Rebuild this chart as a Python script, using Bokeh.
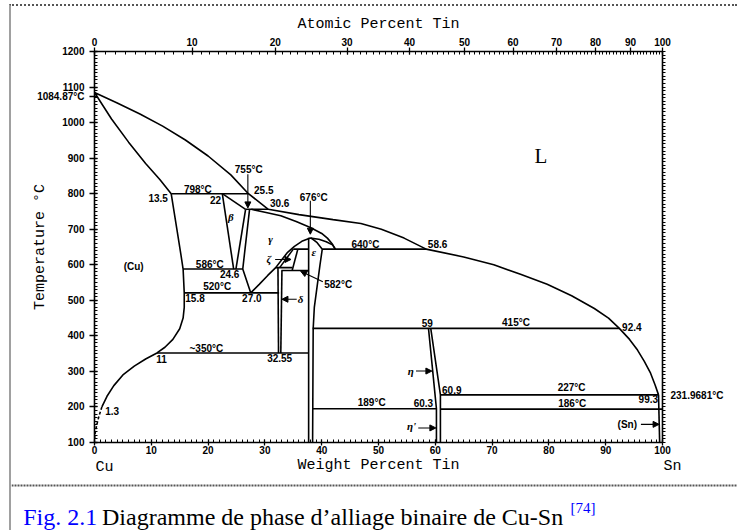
from bokeh.plotting import figure
from bokeh.layouts import column
from bokeh.models import (Range1d, LinearAxis, FixedTicker, CustomJSTickFormatter, Arrow, NormalHead)
from bokeh.core.properties import value
from bokeh.embed import file_html
from bokeh.resources import INLINE

# ---------------- data (weight % Sn, temperature degC) ----------------
liquidus_wt = [0, 4, 8, 12, 16, 20, 24, 27.1, 30.6, 36, 42, 46.9, 50.5, 54.5, 58.4,
               65, 70.3, 75, 79.7, 84, 88, 90.5, 92.4, 94.2, 95.6, 96.8, 97.9, 98.7, 99.3]
liquidus_T = [1084.87, 1055, 1024, 990, 951, 906, 853, 800, 756, 741, 727, 716, 700, 675, 644,
              622, 600, 573, 545, 513, 477, 450, 421, 390, 360, 328, 295, 262, 234]

solidus_cu_wt = [0, 3, 6, 9, 11.5, 13.5]
solidus_cu_T = [1084.87, 1010, 945, 885, 840, 800]

solvus_cu_wt = [13.5, 14.5, 15.2, 15.6, 15.8, 15.8, 15.6, 15.0, 13.8, 12.4, 11, 9, 7, 5, 3.4, 2.2, 1.3]
solvus_cu_T = [800, 700, 630, 588, 521, 480, 450, 420, 390, 368, 352, 335, 315, 290, 260, 230, 200]

solvus_dash_wt = [1.3, 0.8, 0.4, 0.1, 0]
solvus_dash_T = [200, 175, 150, 125, 108]

# horizontal invariant lines: temperature, left wt, right wt
iso_T = [800, 756, 588, 521, 352, 644, 644, 592, 584, 421, 234, 195, 194]
iso_left = [13.5, 26.6, 15.6, 15.8, 11.0, 35.0, 40.1, 31.9, 32.9, 38.4, 60.9, 38.4, 60.9]
iso_right = [27.1, 30.6, 26.1, 32.5, 37.7, 37.7, 58.4, 34.8, 37.7, 92.4, 99.3, 60.2, 100]

beta_left_wt, beta_left_T = [22.5, 24.5], [800, 588]
beta_top_wt, beta_top_T = [22.5, 26.6], [800, 756]
beta_right_wt, beta_right_T = [26.6, 24.9], [756, 588]
gamma_left_wt, gamma_left_T = [27.3, 26.1, 27.5], [756, 588, 521]
gamma_right_wt = [27.5, 29, 30.5, 31.9, 33, 34, 35.2, 36.5, 38, 39.5, 40.8, 41.9, 42.4]
gamma_right_T = [521, 545, 570, 592, 615, 635, 652, 666, 675, 672, 665, 656, 644]
gamma_sol_wt = [27.6, 30, 32.8, 35.5, 38, 40, 41, 41.8, 42.4]
gamma_sol_T = [756, 748, 738, 722, 705, 688, 675, 660, 644]
eps_left_wt, eps_left_T = [37.7, 37.7], [676, 100]
eps_right_wt = [38.1, 39.2, 40.1, 39.7, 39.2, 38.7, 38.5, 38.4]
eps_right_T = [676, 662, 644, 600, 540, 480, 420, 100]
zeta_left_wt, zeta_left_T = [35.0, 32.6], [644, 592]
zeta_right_wt, zeta_right_T = [35.8, 34.8], [644, 584]
delta_left_wt, delta_left_T = [32.3, 32.4], [592, 352]
delta_right_wt, delta_right_T = [33.0, 32.8], [584, 352]
eta_left_wt, eta_left_T = [58.8, 60.2, 60.2], [421, 195, 100]
eta_right_wt, eta_right_T = [59.2, 60.9, 60.9], [421, 234, 100]
sn_wt, sn_T = [99.3, 99.5], [234, 100]

# arrows: x0, y0, x1, y1
arr_x0 = [27.0, 38.0, 31.8, 40.2, 35.6, 56.6, 57.0, 96.2]
arr_y0 = [855, 780, 615, 552, 503, 301, 141, 151]
arr_x1 = [27.0, 38.0, 34.6, 36.3, 33.0, 59.4, 60.1, 99.4]
arr_y1 = [760, 686, 615, 582, 503, 301, 141, 151]

# numeric / temperature annotations
ann_text = ["755°C", "25.5", "798°C", "13.5", "22", "30.6", "676°C", "586°C", "24.6", "520°C",
            "15.8", "27.0", "~350°C", "11", "32.55", "1.3", "(Cu)", "640°C", "58.6", "582°C",
            "59", "415°C", "92.4", "60.9", "227°C", "99.3", "189°C", "60.3", "186°C", "(Sn)"]
ann_x = [27.15, 29.8, 18.2, 11.2, 21.3, 32.6, 38.6, 20.3, 23.8, 21.6,
         17.7, 27.7, 19.7, 11.8, 32.6, 3.1, 6.9, 47.7, 60.4, 42.9,
         58.6, 74.2, 94.6, 62.9, 84.0, 97.5, 48.8, 57.9, 84.1, 93.8]
ann_y = [869, 811, 813, 789, 783, 773, 789, 602, 574, 538,
         506, 506, 365, 334, 337, 189, 594, 658, 658, 545,
         437, 439, 425, 248, 254, 222, 212, 210, 210, 151]

phase_text = ["β", "γ", "ζ", "δ", "ε", "η", "η'"]
phase_x = [24.0, 31.0, 30.7, 36.3, 38.6, 55.7, 55.8]
phase_y = [733, 672, 616, 504, 637, 301, 146]

temp_ticks = [100, 200, 300, 400, 500, 600, 700, 800, 900, 1000, 1100, 1200]
cu_melting_label_pos = 1073          # label sits just under the 1100 label, as in the source
sn_melting = 231.9681
wt_ticks = [0, 10, 20, 30, 40, 50, 60, 70, 80, 90, 100]
atomic_ticks = [0, 10, 20, 30, 40, 50, 60, 70, 80, 90, 100]
M_SN, M_CU = 118.71, 63.546

caption_fig = "Fig. 2.1"
caption_text = "Diagramme de phase d’alliage binaire de Cu-Sn"
caption_ref = "[74]"


def at_to_wt(a):
    return 100.0 * a * M_SN / (a * M_SN + (100 - a) * M_CU)


W = 726
p = figure(width=W, height=451, x_range=Range1d(0, 100), y_range=Range1d(100, 1200),
           output_backend="svg", toolbar_location=None,
           x_axis_location=None, y_axis_location=None,
           min_border_left=83, min_border_right=75, min_border_top=45, min_border_bottom=15)
p.grid.visible = False
p.outline_line_color = None
p.frame_align = False

top = LinearAxis(ticker=FixedTicker(ticks=[at_to_wt(a) for a in atomic_ticks],
                                    minor_ticks=[at_to_wt(a) for a in range(0, 101)]),
                 formatter=CustomJSTickFormatter(code="""
                     const a = tick / 118.71, b = (100 - tick) / 63.546;
                     return String(Math.round(100 * a / (a + b)));"""),
                 axis_label="Atomic Percent Tin")
bottom = LinearAxis(ticker=FixedTicker(ticks=wt_ticks, minor_ticks=list(range(0, 101))))
left = LinearAxis(ticker=FixedTicker(ticks=temp_ticks + [cu_melting_label_pos],
                                     minor_ticks=list(range(100, 1201, 10))),
                  formatter=CustomJSTickFormatter(code="""
                     if (Math.abs(tick - 1073) < 0.01) return "1084.87°C";
                     return tick.toFixed(0);"""),
                  axis_label="Temperature °C")
right = LinearAxis(ticker=FixedTicker(ticks=[sn_melting], minor_ticks=list(range(100, 1201, 10))),
                   formatter=CustomJSTickFormatter(code='return "231.9681°C";'))
p.add_layout(top, "above")
p.add_layout(bottom, "below")
p.add_layout(left, "left")
p.add_layout(right, "right")

for ax in (top, right, left, bottom):
    ax.axis_line_width = 1.6
    ax.axis_line_color = "black"
    ax.major_tick_line_color = "black"
    ax.minor_tick_line_color = "black"
    ax.major_tick_line_width = 1.3
    ax.minor_tick_line_width = 1.0
    ax.major_tick_in = 3
    ax.major_tick_out = 5
    ax.minor_tick_in = 3
    ax.minor_tick_out = 0
    ax.major_label_text_font = "Liberation Sans"
    ax.major_label_text_font_style = "bold"
    ax.major_label_text_font_size = "10px"
    ax.major_label_text_color = "black"
    ax.axis_label_text_font = "Liberation Mono"
    ax.axis_label_text_font_style = "normal"
    ax.axis_label_text_font_size = "15px"
    ax.axis_label_text_color = "black"

right.minor_tick_in = 0
right.minor_tick_out = 3
right.major_tick_in = 0
right.major_tick_out = 0
right.major_label_standoff = 5
left.major_label_standoff = 5
left.axis_label_standoff = -15
top.major_tick_out = 4
top.major_label_standoff = 2
top.axis_label_standoff = 2
bottom.major_tick_out = 3
bottom.major_label_standoff = 0

LW = 1.6
curves = [
    (liquidus_wt, liquidus_T), (solidus_cu_wt, solidus_cu_T), (solvus_cu_wt, solvus_cu_T),
    (beta_left_wt, beta_left_T), (beta_top_wt, beta_top_T), (beta_right_wt, beta_right_T),
    (gamma_left_wt, gamma_left_T), (gamma_right_wt, gamma_right_T), (gamma_sol_wt, gamma_sol_T),
    (eps_left_wt, eps_left_T), (eps_right_wt, eps_right_T),
    (zeta_left_wt, zeta_left_T), (zeta_right_wt, zeta_right_T),
    (delta_left_wt, delta_left_T), (delta_right_wt, delta_right_T),
    (eta_left_wt, eta_left_T), (eta_right_wt, eta_right_T), (sn_wt, sn_T),
]
for xs, ys in curves:
    p.line(xs, ys, line_color="black", line_width=LW)
p.line(solvus_dash_wt, solvus_dash_T, line_color="black", line_width=LW, line_dash="3 2")
p.segment(x0=iso_left, y0=iso_T, x1=iso_right, y1=iso_T, line_color="black", line_width=LW)

for x0, y0, x1, y1 in zip(arr_x0, arr_y0, arr_x1, arr_y1):
    p.add_layout(Arrow(x_start=x0, y_start=y0, x_end=x1, y_end=y1, line_width=1.1,
                       end=NormalHead(size=6, fill_color="black", line_color="black")))

p.text(x=ann_x, y=ann_y, text=ann_text, text_font=value("Liberation Sans"),
       text_font_style="bold", text_font_size="10px", text_align="center",
       text_baseline="middle", text_color="black")
p.text(x=phase_x, y=phase_y, text=phase_text, text_font=value("Liberation Serif"),
       text_font_style="bold italic", text_font_size="11px", text_align="center",
       text_baseline="middle", text_color="black")
p.text(x=[78.6], y=[906], text=["L"], text_font=value("Liberation Serif"),
       text_font_size="21px", text_align="center", text_baseline="middle", text_color="black")

# ---------------- lower strip: end labels, separator and caption ----------------
H2 = 73
cap = figure(width=W, height=H2, x_range=Range1d(0, W), y_range=Range1d(H2, 0),
             output_backend="svg", toolbar_location=None,
             x_axis_location=None, y_axis_location=None,
             min_border_left=0, min_border_right=0, min_border_top=0, min_border_bottom=0)
cap.grid.visible = False
cap.outline_line_color = None
cap.frame_align = False

cap.text(x=[93, 367, 661], y=[10, 8, 9], text=["Cu", "Weight Percent Tin", "Sn"],
         text_font=value("Liberation Mono"), text_font_size="15px", text_align="center",
         text_baseline="middle", text_color="black")
cap.line(x=[0, W], y=[28, 28], line_color="#555555", line_width=2, line_dash="2 1")
cap.text(x=[11.7], y=[59], text=[caption_fig], text_font=value("Liberation Serif"),
         text_font_size="24px", text_align="left", text_baseline="alphabetic",
         text_color="#0000ff")
cap.text(x=[90.5], y=[59], text=[caption_text], text_font=value("Liberation Serif"),
         text_font_size="24px", text_align="left", text_baseline="alphabetic",
         text_color="black")
cap.text(x=[559], y=[50], text=[caption_ref], text_font=value("Liberation Serif"),
         text_font_size="15px", text_align="left", text_baseline="alphabetic",
         text_color="#0000ff")

layout = column(p, cap, spacing=0,
                styles={"margin-left": "9px", "margin-top": "4px",
                        "border-left": "2px solid #a0a0a0",
                        "border-top": "2px dotted #555555"})

open("out.html", "w").write(file_html(layout, INLINE))
